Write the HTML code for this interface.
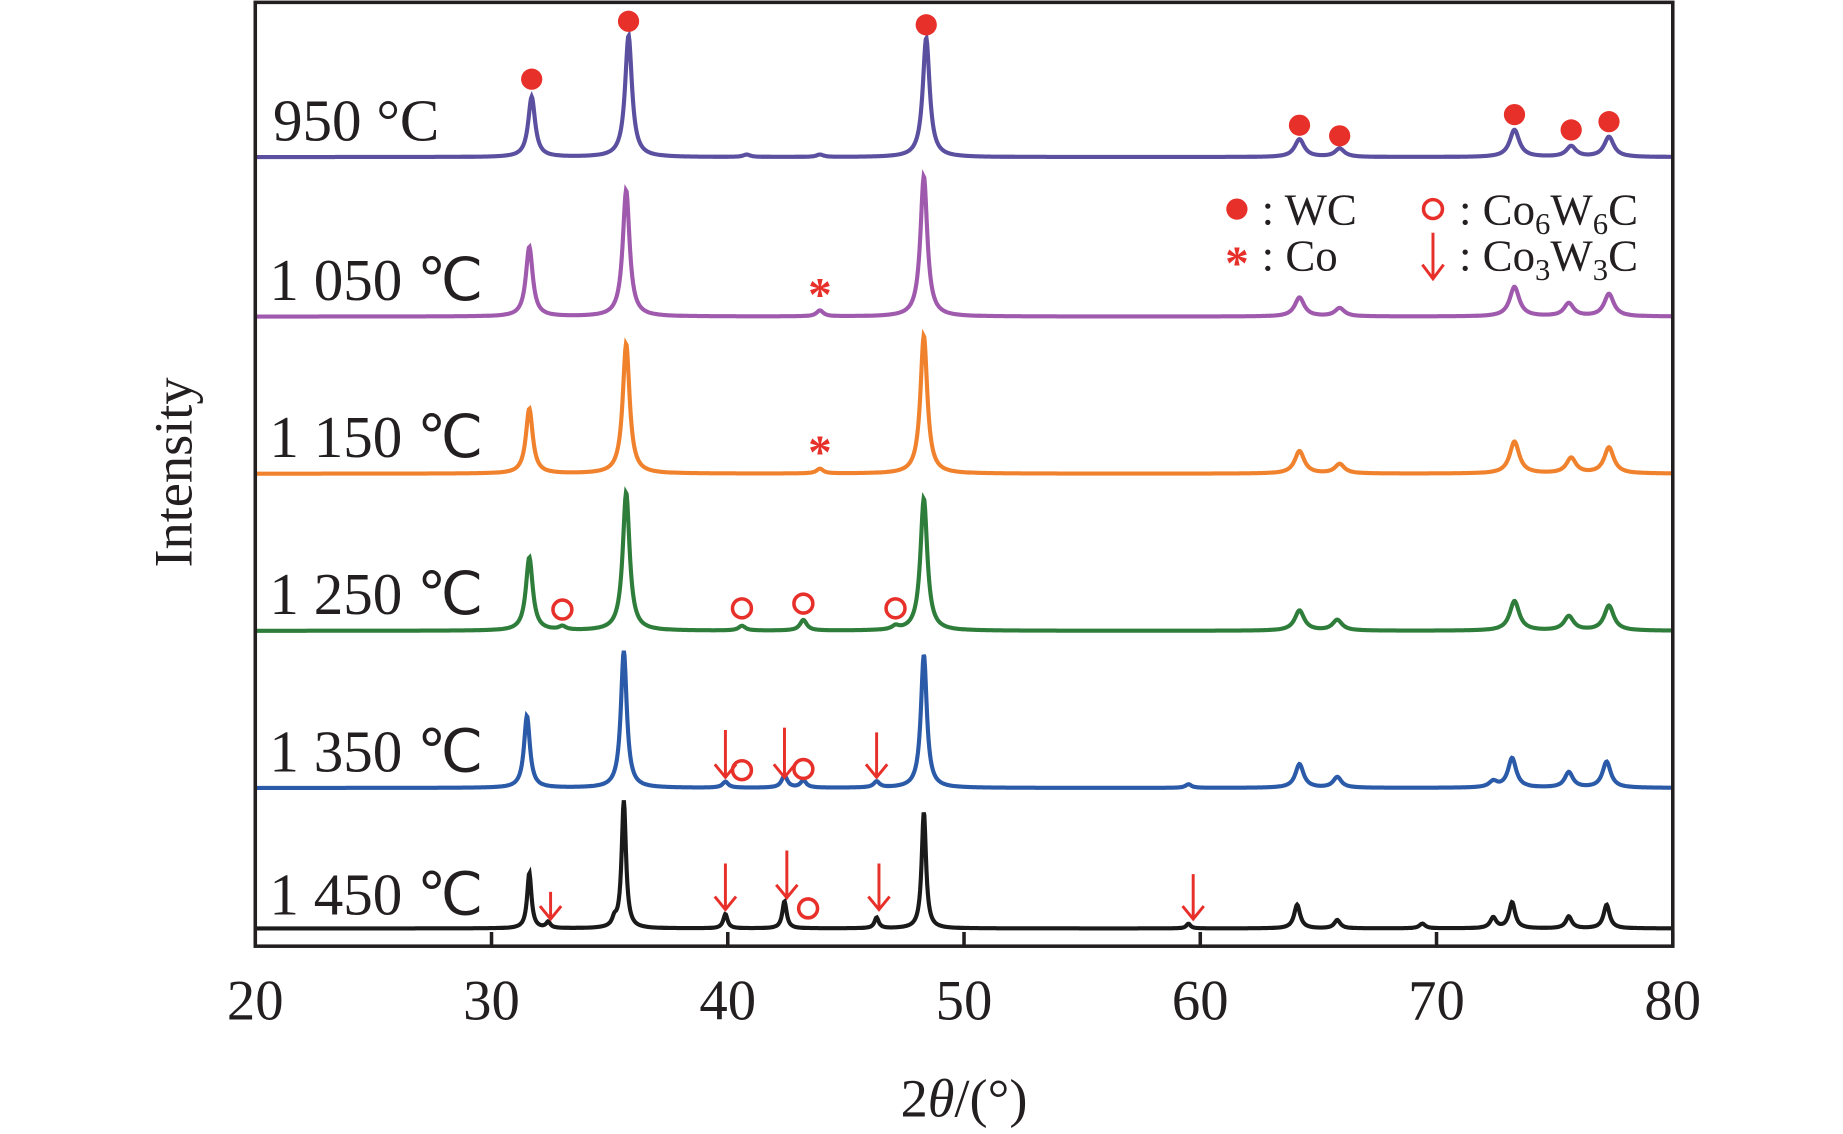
<!DOCTYPE html>
<html><head><meta charset="utf-8"><style>
html,body{margin:0;padding:0;background:#fff;}
svg{display:block;}
text{font-family:"Liberation Serif",serif;fill:#231f20;}
</style></head><body>
<svg id="chart" width="1843" height="1134" viewBox="0 0 1560 960" xmlns="http://www.w3.org/2000/svg">
<g id="series"></g>
<g id="marks"></g>
<rect x="216" y="2" width="1200" height="799" fill="none" stroke="#231f20" stroke-width="3"/>
<g id="axis"></g>
<text x="816" y="945" font-size="46" text-anchor="middle">2<tspan font-style="italic">θ</tspan>/(°)</text>
<text x="0" y="0" font-size="46" text-anchor="middle" transform="translate(162,400) rotate(-90)">Intensity</text>
<g>
<circle cx="1047" cy="177" r="9" fill="#e8302a"/>
<text x="1068" y="190" font-size="38">: WC</text>
<circle cx="1213" cy="177" r="8" fill="none" stroke="#e8302a" stroke-width="3"/>
<text x="1235" y="190" font-size="38">: Co<tspan font-size="26" dy="8">6</tspan><tspan dy="-8">W</tspan><tspan font-size="26" dy="8">6</tspan><tspan dy="-8">C</tspan></text>
<text x="1047" y="236" font-size="40" font-weight="bold" text-anchor="middle" style="fill:#e8302a">*</text>
<text x="1068" y="229" font-size="38">: Co</text>
<g stroke="#e8302a" stroke-width="2.5" fill="none"><line x1="1213" y1="197" x2="1213" y2="235"/><polyline points="1204,224 1213,236 1222,224"/></g>
<text x="1235" y="229" font-size="38">: Co<tspan font-size="26" dy="8">3</tspan><tspan dy="-8">W</tspan><tspan font-size="26" dy="8">3</tspan><tspan dy="-8">C</tspan></text>
</g>
</svg>
<script>
const NS="http://www.w3.org/2000/svg";
const xTicks=[20,30,40,50,60,70,80];
const labels=["950 °C","1 050 ℃","1 150 ℃","1 250 ℃","1 350 ℃","1 450 ℃"];
const colors=["#5b4fa0","#a05aad","#f0822e","#2e7d3a","#2a5aa8","#1a1a1a"];
const baselines=[133,268,401,534,667,786];
const pos950=[31.7,35.8,40.8,43.9,48.4,64.2,65.9,73.3,75.7,77.3];
const amp950=[51,103,2,2,101,15,7,23,9,17];
const pos1050=[31.6,35.7,43.9,48.3,64.2,65.9,73.3,75.6,77.3];
const amp1050=[59,107,5,119,16,7,25,11,19];
const pos1150=[31.6,35.7,43.9,48.3,64.2,65.9,73.3,75.7,77.3];
const amp1150=[55,110,4,117,19,8,27,13,22];
const pos1250=[31.6,33.0,35.7,40.6,43.2,47.1,48.3,64.2,65.8,73.3,75.6,77.3];
const amp1250=[62,3,117,4,9,3,112,17,9,25,12,21];
const pos1350=[31.5,35.6,39.9,42.4,43.2,46.3,48.3,59.5,64.2,65.8,72.4,73.2,75.6,77.2];
const amp1350=[61,116,5,10,6,5,113,3,20,9,5,25,13,22];
const pos1450=[31.6,32.4,35.2,35.6,39.9,42.4,46.3,48.3,59.5,64.1,65.8,69.4,72.4,73.2,75.6,77.2];
const amp1450=[47,5,6,108,12,23,9,99,4,20,7,4,9,22,10,20];
const widths=[0.35,0.35,0.35,0.35,0.3,0.22];
const posAll=[pos950,pos1050,pos1150,pos1250,pos1350,pos1450];
const ampAll=[amp950,amp1050,amp1150,amp1250,amp1350,amp1450];
const wcX=[31.7,35.8,48.4,64.2,65.9,73.3,75.7,77.3];
const wcY=[67,18,21,106,115,97,110,103];
const coX=[43.9,43.9];
const coY=[245,378];
const ocX=[33.0,40.6,43.2,47.1,40.6,43.2,43.4];
const ocY=[516,515,511,515,652,651,769];
const arX=[39.9,42.4,46.3,32.5,39.9,42.5,46.4,59.7];
const arY=[[618,658],[616,658],[620,658],[755,778],[731,770],[720,760],[731,770],[740,778]];
const X=v=>216+(v-20)*(1200/60);
const sv=document.getElementById('series');
for(let s=0;s<6;s++){
  const P=posAll[s],A=ampAll[s];let d="";
  for(let x=20;x<=80.001;x+=0.03){
    let y=0;
    for(let k=0;k<P.length;k++){const w=widths[s]*(P[k]>60?1.4:1);const t=(x-P[k])/(w/2);y+=A[k]/(1+t*t);}
    d+=(d?"L":"M")+X(x).toFixed(1)+","+(baselines[s]-y).toFixed(1);
  }
  const p=document.createElementNS(NS,'path');
  p.setAttribute('d',d);p.setAttribute('fill','none');p.setAttribute('stroke',colors[s]);p.setAttribute('stroke-width','3.5');
  
  
  sv.appendChild(p);
  const t=document.createElementNS(NS,'text');
  t.setAttribute('x',s==0?231:228);t.setAttribute('y',baselines[s]-(s==5?12:14));t.setAttribute('font-size','50');
  t.textContent=labels[s];
  
  
  sv.appendChild(t);
}
const mk=document.getElementById('marks');
wcX.forEach((v,i)=>{const c=document.createElementNS(NS,'circle');c.setAttribute('cx',X(v));c.setAttribute('cy',wcY[i]);c.setAttribute('r','9');c.setAttribute('fill','#e8302a');


mk.appendChild(c);});
ocX.forEach((v,i)=>{const c=document.createElementNS(NS,'circle');c.setAttribute('cx',X(v));c.setAttribute('cy',ocY[i]);c.setAttribute('r','8');c.setAttribute('fill','none');c.setAttribute('stroke','#e8302a');c.setAttribute('stroke-width','3');


mk.appendChild(c);});
coX.forEach((v,i)=>{const t=document.createElementNS(NS,'text');t.setAttribute('x',X(v));t.setAttribute('y',coY[i]+18);t.setAttribute('font-size','40');t.setAttribute('font-weight','bold');t.setAttribute('text-anchor','middle');t.setAttribute('style','fill:#e8302a');t.textContent='*';


mk.appendChild(t);});
arX.forEach((v,i)=>{const g=document.createElementNS(NS,'g');g.setAttribute('stroke','#e8302a');g.setAttribute('stroke-width','2.5');g.setAttribute('fill','none');const x=X(v),y1=arY[i][0],y2=arY[i][1];
g.innerHTML=`<line x1="${x}" y1="${y1}" x2="${x}" y2="${y2}"/><polyline points="${x-9},${y2-11} ${x},${y2} ${x+9},${y2-11}"/>`;


mk.appendChild(g);});
const ax=document.getElementById('axis');
xTicks.forEach(v=>{const l=document.createElementNS(NS,'line');l.setAttribute('x1',X(v));l.setAttribute('x2',X(v));l.setAttribute('y1',801);l.setAttribute('y2',789);l.setAttribute('stroke','#231f20');l.setAttribute('stroke-width','3');


ax.appendChild(l);
const t=document.createElementNS(NS,'text');t.setAttribute('x',X(v));t.setAttribute('y',863);t.setAttribute('font-size','48');t.setAttribute('text-anchor','middle');t.textContent=v;


ax.appendChild(t);});
</script>
</body></html>
